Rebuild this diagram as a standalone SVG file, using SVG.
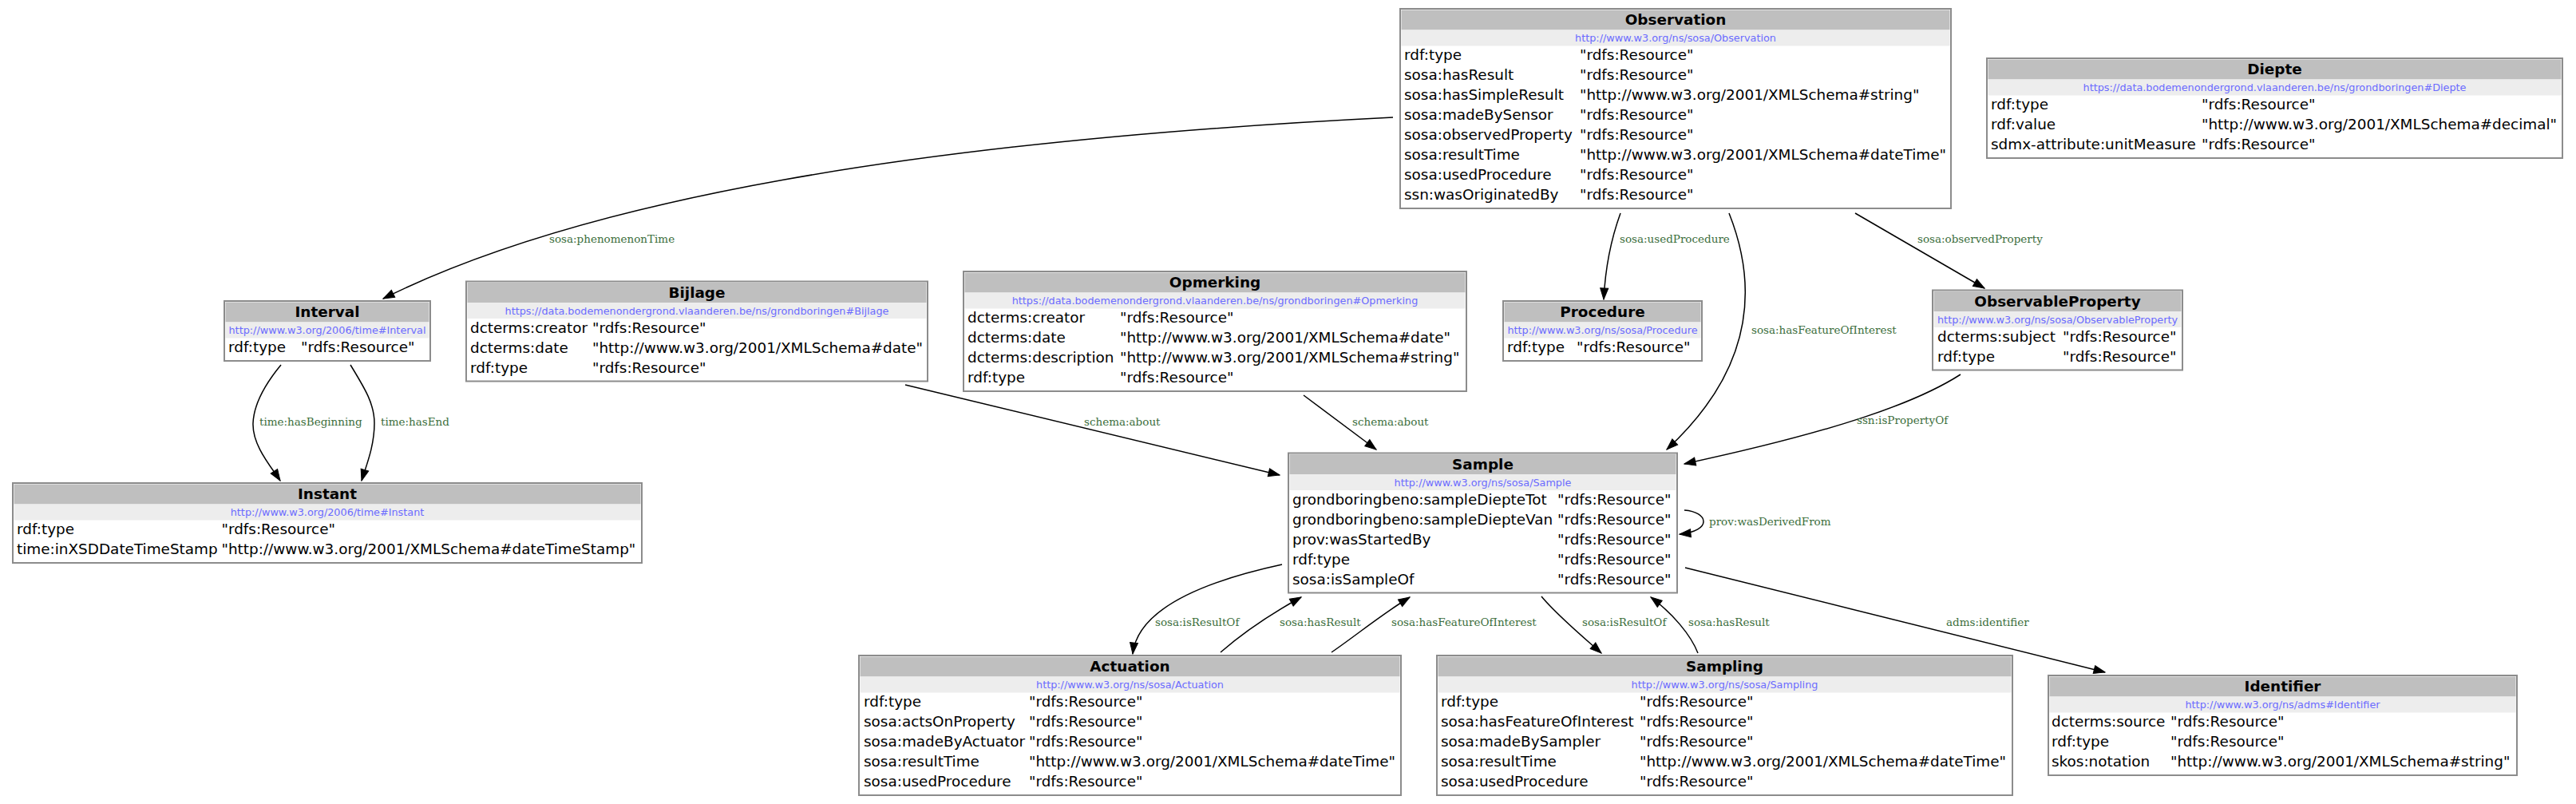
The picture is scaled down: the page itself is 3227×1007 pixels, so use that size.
<svg xmlns="http://www.w3.org/2000/svg" width="3227" height="1007" viewBox="0 0 3227 1007">
<style>
.bg{fill:#fff}
.box{fill:#fff;stroke:#8c8c8c;stroke-width:2}
.hdr{fill:#bfbfbf}
.urlb{fill:#ededed}
.title{font-family:"DejaVu Sans",sans-serif;font-weight:bold;font-size:18.4px;text-anchor:middle;fill:#000}
.uri{font-family:"DejaVu Sans",sans-serif;font-size:12.8px;text-anchor:middle;fill:#6b6bff}
.row{font-family:"DejaVu Sans",sans-serif;font-size:18.4px;fill:#000}
.lbl{font-family:"DejaVu Serif",serif;font-size:13.5px;fill:#3c6e3c}
.edge{fill:none;stroke:#000;stroke-width:1.5;marker-end:url(#arr)}
</style>
<defs>
<marker id="arr" markerUnits="userSpaceOnUse" markerWidth="15" markerHeight="11" refX="14" refY="5" orient="auto" overflow="visible">
<path d="M0,0 L14,5 L0,10 Z" fill="#000" stroke="#000" stroke-width="1"/>
</marker>
</defs>
<rect class="bg" x="0" y="0" width="3227" height="1007"/>

<g id="edges">
<path class="edge" d="M1745,147 C1145,177 730,250 480,374"/>
<text class="lbl" x="688" y="304">sosa:phenomenonTime</text>
<path class="edge" d="M352,457 C333,480 318,505 317,530 C316,558 340,585 351,602"/>
<text class="lbl" x="325" y="533">time:hasBeginning</text>
<path class="edge" d="M439,457 C456,485 469,505 469,530 C469,560 458,585 453,602"/>
<text class="lbl" x="477" y="533">time:hasEnd</text>
<path class="edge" d="M1134,482 L1603,595"/>
<text class="lbl" x="1358" y="533">schema:about</text>
<path class="edge" d="M1633,495 L1724,563"/>
<text class="lbl" x="1694" y="533">schema:about</text>
<path class="edge" d="M2030,267 C2018,300 2011,335 2009,375"/>
<text class="lbl" x="2029" y="304">sosa:usedProcedure</text>
<path class="edge" d="M2166,267 C2195,340 2210,450 2088,563"/>
<text class="lbl" x="2194" y="418">sosa:hasFeatureOfInterest</text>
<path class="edge" d="M2324,267 L2486,361"/>
<text class="lbl" x="2402" y="304">sosa:observedProperty</text>
<path class="edge" d="M2456,469 C2400,505 2300,540 2110,581"/>
<text class="lbl" x="2326" y="531">ssn:isPropertyOf</text>
<path class="edge" d="M2110,639 C2140,641 2146,665 2104,669"/>
<text class="lbl" x="2141" y="658">prov:wasDerivedFrom</text>
<path class="edge" d="M2111,711 L2637,842"/>
<text class="lbl" x="2438" y="784">adms:identifier</text>
<path class="edge" d="M1606,707 C1500,730 1425,765 1419,819"/>
<text class="lbl" x="1447" y="784">sosa:isResultOf</text>
<path class="edge" d="M1529,817 C1560,790 1590,770 1630,748"/>
<text class="lbl" x="1603" y="784">sosa:hasResult</text>
<path class="edge" d="M1668,817 C1700,795 1730,770 1766,748"/>
<text class="lbl" x="1743" y="784">sosa:hasFeatureOfInterest</text>
<path class="edge" d="M1931,747 C1950,770 1980,795 2006,818"/>
<text class="lbl" x="1982" y="784">sosa:isResultOf</text>
<path class="edge" d="M2127,818 C2118,795 2095,768 2068,748"/>
<text class="lbl" x="2115" y="784">sosa:hasResult</text>
</g>

<g id="Observation">
<rect class="box" x="1754" y="11" width="690" height="250"/>
<rect class="hdr" x="1755.5" y="12.5" width="687" height="25"/>
<rect class="urlb" x="1755.5" y="37.5" width="687" height="20"/>
<text class="title" x="2099" y="31">Observation</text>
<text class="uri" x="2099" y="52">http://www.w3.org/ns/sosa/Observation</text>
<text class="row" x="1759" y="75">rdf:type</text><text class="row" x="1979" y="75">"rdfs:Resource"</text>
<text class="row" x="1759" y="100">sosa:hasResult</text><text class="row" x="1979" y="100">"rdfs:Resource"</text>
<text class="row" x="1759" y="125">sosa:hasSimpleResult</text><text class="row" x="1979" y="125">"http://www.w3.org/2001/XMLSchema#string"</text>
<text class="row" x="1759" y="150">sosa:madeBySensor</text><text class="row" x="1979" y="150">"rdfs:Resource"</text>
<text class="row" x="1759" y="175">sosa:observedProperty</text><text class="row" x="1979" y="175">"rdfs:Resource"</text>
<text class="row" x="1759" y="200">sosa:resultTime</text><text class="row" x="1979" y="200">"http://www.w3.org/2001/XMLSchema#dateTime"</text>
<text class="row" x="1759" y="225">sosa:usedProcedure</text><text class="row" x="1979" y="225">"rdfs:Resource"</text>
<text class="row" x="1759" y="250">ssn:wasOriginatedBy</text><text class="row" x="1979" y="250">"rdfs:Resource"</text>
</g>

<g id="Diepte">
<rect class="box" x="2489" y="73" width="721" height="125"/>
<rect class="hdr" x="2490.5" y="74.5" width="718" height="25"/>
<rect class="urlb" x="2490.5" y="99.5" width="718" height="20"/>
<text class="title" x="2849.5" y="93">Diepte</text>
<text class="uri" x="2849.5" y="114">https://data.bodemenondergrond.vlaanderen.be/ns/grondboringen#Diepte</text>
<text class="row" x="2494" y="137">rdf:type</text><text class="row" x="2758" y="137">"rdfs:Resource"</text>
<text class="row" x="2494" y="162">rdf:value</text><text class="row" x="2758" y="162">"http://www.w3.org/2001/XMLSchema#decimal"</text>
<text class="row" x="2494" y="187">sdmx-attribute:unitMeasure</text><text class="row" x="2758" y="187">"rdfs:Resource"</text>
</g>

<g id="Interval">
<rect class="box" x="281" y="377" width="258" height="75"/>
<rect class="hdr" x="282.5" y="378.5" width="255" height="25"/>
<rect class="urlb" x="282.5" y="403.5" width="255" height="20"/>
<text class="title" x="410" y="397">Interval</text>
<text class="uri" x="410" y="418">http://www.w3.org/2006/time#Interval</text>
<text class="row" x="286" y="441">rdf:type</text><text class="row" x="377" y="441">"rdfs:Resource"</text>
</g>

<g id="Instant">
<rect class="box" x="16" y="605" width="788" height="100"/>
<rect class="hdr" x="17.5" y="606.5" width="785" height="25"/>
<rect class="urlb" x="17.5" y="631.5" width="785" height="20"/>
<text class="title" x="410" y="625">Instant</text>
<text class="uri" x="410" y="646">http://www.w3.org/2006/time#Instant</text>
<text class="row" x="21" y="669">rdf:type</text><text class="row" x="277.5" y="669">"rdfs:Resource"</text>
<text class="row" x="21" y="694">time:inXSDDateTimeStamp</text><text class="row" x="277.5" y="694">"http://www.w3.org/2001/XMLSchema#dateTimeStamp"</text>
</g>

<g id="Bijlage">
<rect class="box" x="584" y="352.5" width="578" height="125"/>
<rect class="hdr" x="585.5" y="354" width="575" height="25"/>
<rect class="urlb" x="585.5" y="379" width="575" height="20"/>
<text class="title" x="873" y="372.5">Bijlage</text>
<text class="uri" x="873" y="393.5">https://data.bodemenondergrond.vlaanderen.be/ns/grondboringen#Bijlage</text>
<text class="row" x="589" y="416.5">dcterms:creator</text><text class="row" x="742" y="416.5">"rdfs:Resource"</text>
<text class="row" x="589" y="441.5">dcterms:date</text><text class="row" x="742" y="441.5">"http://www.w3.org/2001/XMLSchema#date"</text>
<text class="row" x="589" y="466.5">rdf:type</text><text class="row" x="742" y="466.5">"rdfs:Resource"</text>
</g>

<g id="Opmerking">
<rect class="box" x="1207" y="340" width="630" height="150"/>
<rect class="hdr" x="1208.5" y="341.5" width="627" height="25"/>
<rect class="urlb" x="1208.5" y="366.5" width="627" height="20"/>
<text class="title" x="1522" y="360">Opmerking</text>
<text class="uri" x="1522" y="381">https://data.bodemenondergrond.vlaanderen.be/ns/grondboringen#Opmerking</text>
<text class="row" x="1212" y="404">dcterms:creator</text><text class="row" x="1403" y="404">"rdfs:Resource"</text>
<text class="row" x="1212" y="429">dcterms:date</text><text class="row" x="1403" y="429">"http://www.w3.org/2001/XMLSchema#date"</text>
<text class="row" x="1212" y="454">dcterms:description</text><text class="row" x="1403" y="454">"http://www.w3.org/2001/XMLSchema#string"</text>
<text class="row" x="1212" y="479">rdf:type</text><text class="row" x="1403" y="479">"rdfs:Resource"</text>
</g>

<g id="Procedure">
<rect class="box" x="1883" y="377" width="249" height="75"/>
<rect class="hdr" x="1884.5" y="378.5" width="246" height="25"/>
<rect class="urlb" x="1884.5" y="403.5" width="246" height="20"/>
<text class="title" x="2007.5" y="397">Procedure</text>
<text class="uri" x="2007.5" y="418">http://www.w3.org/ns/sosa/Procedure</text>
<text class="row" x="1888" y="441">rdf:type</text><text class="row" x="1975" y="441">"rdfs:Resource"</text>
</g>

<g id="ObservableProperty">
<rect class="box" x="2421" y="363.5" width="313" height="100"/>
<rect class="hdr" x="2422.5" y="365" width="310" height="25"/>
<rect class="urlb" x="2422.5" y="390" width="310" height="20"/>
<text class="title" x="2577.5" y="383.5">ObservableProperty</text>
<text class="uri" x="2577.5" y="404.5">http://www.w3.org/ns/sosa/ObservableProperty</text>
<text class="row" x="2427" y="427.5">dcterms:subject</text><text class="row" x="2584" y="427.5">"rdfs:Resource"</text>
<text class="row" x="2427" y="452.5">rdf:type</text><text class="row" x="2584" y="452.5">"rdfs:Resource"</text>
</g>

<g id="Sample">
<rect class="box" x="1614" y="567.5" width="487" height="175"/>
<rect class="hdr" x="1615.5" y="569" width="484" height="25"/>
<rect class="urlb" x="1615.5" y="594" width="484" height="20"/>
<text class="title" x="1857.5" y="587.5">Sample</text>
<text class="uri" x="1857.5" y="608.5">http://www.w3.org/ns/sosa/Sample</text>
<text class="row" x="1619" y="631.5">grondboringbeno:sampleDiepteTot</text><text class="row" x="1951" y="631.5">"rdfs:Resource"</text>
<text class="row" x="1619" y="656.5">grondboringbeno:sampleDiepteVan</text><text class="row" x="1951" y="656.5">"rdfs:Resource"</text>
<text class="row" x="1619" y="681.5">prov:wasStartedBy</text><text class="row" x="1951" y="681.5">"rdfs:Resource"</text>
<text class="row" x="1619" y="706.5">rdf:type</text><text class="row" x="1951" y="706.5">"rdfs:Resource"</text>
<text class="row" x="1619" y="731.5">sosa:isSampleOf</text><text class="row" x="1951" y="731.5">"rdfs:Resource"</text>
</g>

<g id="Actuation">
<rect class="box" x="1076" y="821" width="679" height="175"/>
<rect class="hdr" x="1077.5" y="822.5" width="676" height="25"/>
<rect class="urlb" x="1077.5" y="847.5" width="676" height="20"/>
<text class="title" x="1415.5" y="841">Actuation</text>
<text class="uri" x="1415.5" y="862">http://www.w3.org/ns/sosa/Actuation</text>
<text class="row" x="1082" y="885">rdf:type</text><text class="row" x="1289" y="885">"rdfs:Resource"</text>
<text class="row" x="1082" y="910">sosa:actsOnProperty</text><text class="row" x="1289" y="910">"rdfs:Resource"</text>
<text class="row" x="1082" y="935">sosa:madeByActuator</text><text class="row" x="1289" y="935">"rdfs:Resource"</text>
<text class="row" x="1082" y="960">sosa:resultTime</text><text class="row" x="1289" y="960">"http://www.w3.org/2001/XMLSchema#dateTime"</text>
<text class="row" x="1082" y="985">sosa:usedProcedure</text><text class="row" x="1289" y="985">"rdfs:Resource"</text>
</g>

<g id="Sampling">
<rect class="box" x="1800" y="821" width="721" height="175"/>
<rect class="hdr" x="1801.5" y="822.5" width="718" height="25"/>
<rect class="urlb" x="1801.5" y="847.5" width="718" height="20"/>
<text class="title" x="2160.5" y="841">Sampling</text>
<text class="uri" x="2160.5" y="862">http://www.w3.org/ns/sosa/Sampling</text>
<text class="row" x="1805" y="885">rdf:type</text><text class="row" x="2054" y="885">"rdfs:Resource"</text>
<text class="row" x="1805" y="910">sosa:hasFeatureOfInterest</text><text class="row" x="2054" y="910">"rdfs:Resource"</text>
<text class="row" x="1805" y="935">sosa:madeBySampler</text><text class="row" x="2054" y="935">"rdfs:Resource"</text>
<text class="row" x="1805" y="960">sosa:resultTime</text><text class="row" x="2054" y="960">"http://www.w3.org/2001/XMLSchema#dateTime"</text>
<text class="row" x="1805" y="985">sosa:usedProcedure</text><text class="row" x="2054" y="985">"rdfs:Resource"</text>
</g>

<g id="Identifier">
<rect class="box" x="2566" y="846" width="587" height="125"/>
<rect class="hdr" x="2567.5" y="847.5" width="584" height="25"/>
<rect class="urlb" x="2567.5" y="872.5" width="584" height="20"/>
<text class="title" x="2859.5" y="866">Identifier</text>
<text class="uri" x="2859.5" y="887">http://www.w3.org/ns/adms#Identifier</text>
<text class="row" x="2570" y="910">dcterms:source</text><text class="row" x="2719" y="910">"rdfs:Resource"</text>
<text class="row" x="2570" y="935">rdf:type</text><text class="row" x="2719" y="935">"rdfs:Resource"</text>
<text class="row" x="2570" y="960">skos:notation</text><text class="row" x="2719" y="960">"http://www.w3.org/2001/XMLSchema#string"</text>
</g>
</svg>
